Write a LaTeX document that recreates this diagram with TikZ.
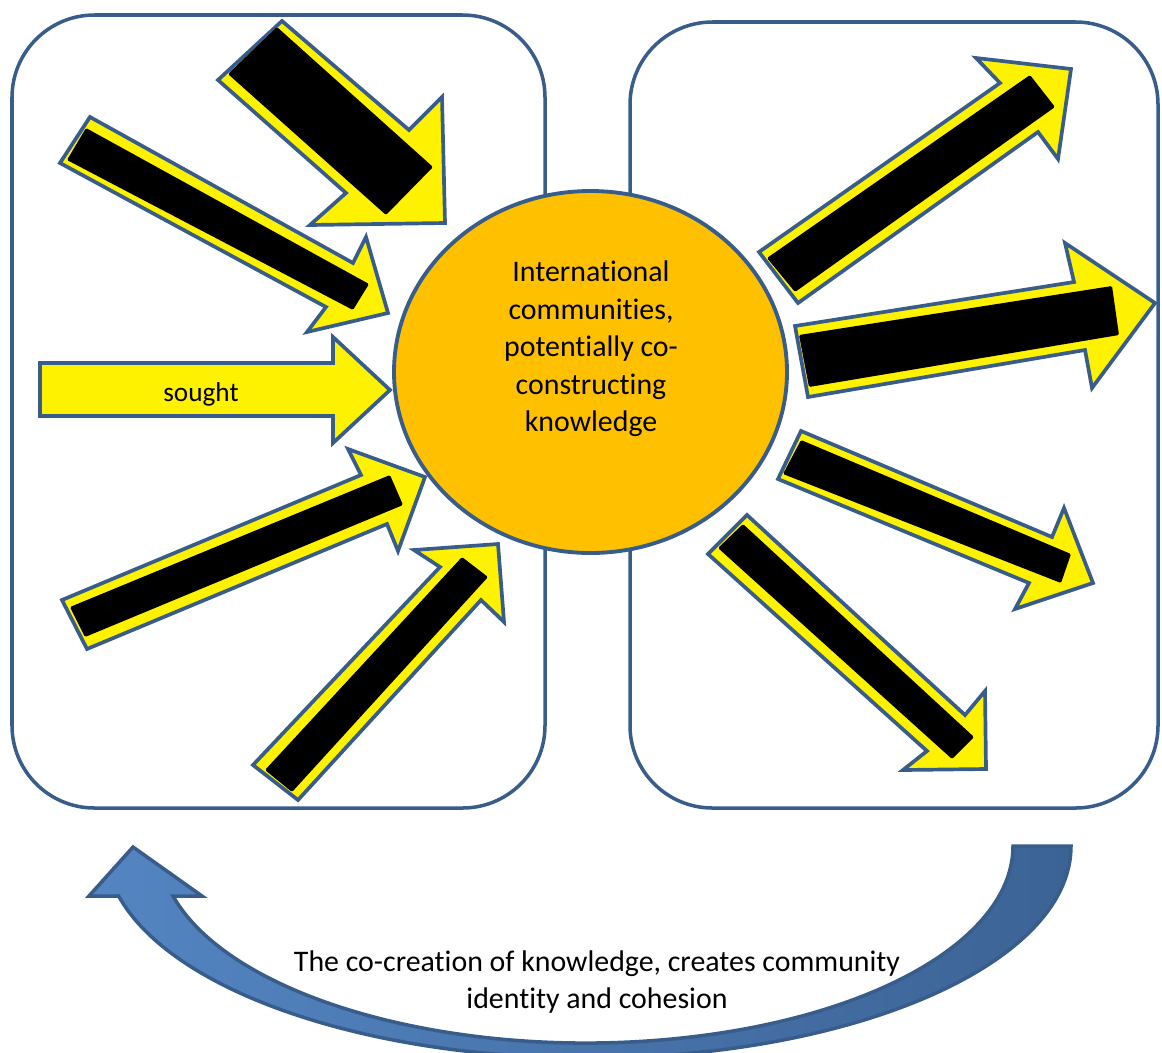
\documentclass[tikz,border=0pt]{standalone}
\usepackage{fontspec}
\setmainfont[Ligatures=NoCommon]{Carlito}
\definecolor{outline}{RGB}{56,93,138}
\definecolor{sun}{RGB}{255,192,0}
\definecolor{loopl}{RGB}{84,133,194}
\definecolor{loopd}{RGB}{60,99,149}

\begin{document}
\begin{tikzpicture}[x=0.02cm, y=-0.02cm,
		panel/.style={draw=outline, line width=2pt, rounded corners=1.65cm},
		blockarrow/.style={draw=outline, fill=yellow, line width=2.1pt},
		bar/.style={fill=black, rounded corners=0.8pt},
		txt/.style={font=\fontsize{17}{21.3}\selectfont, align=center, inner sep=0pt}]
		\useasboundingbox (0,0) rectangle (1162,1052);
		
		\draw[panel] (12,15) rectangle (545,808);
		\draw[panel] (630,22) rectangle (1158,808);
		
		\draw[draw=outline, fill=sun, line width=2.2pt] (590.5,372) ellipse [x radius=196.5, y radius=181];
		\node[txt] (hub) at (591,349) {International\\communities,\\potentially co-\\constructing\\knowledge};
		
		\draw[blockarrow] (282,21) -- (409,130) -- (442,97) -- (445,223) -- (310,225) -- (346,193) -- (218,80) -- cycle;
		\fill[bar] (277,27) -- (433,167) -- (386,215) -- (228,74) -- cycle;
		\draw[blockarrow] (90,117) -- (353,263) -- (366,237) -- (388,313) -- (307,332) -- (326,307) -- (60,163) -- cycle;
		\fill[bar] (86,128) -- (369,284) -- (353,310) -- (67,160) -- cycle;
		\draw[blockarrow] (40,363) -- (333,363) -- (333,337) -- (390,390) -- (333,443) -- (333,416) -- (40,416) -- cycle;
		\node[txt, font=\fontsize{15.5}{19}\selectfont] (sought) at (201,394) {sought};
		\draw[blockarrow] (62,600) -- (361,475) -- (348,449) -- (425,477) -- (398,551) -- (387,524) -- (87,649) -- cycle;
		\fill[bar] (70,607) -- (390,475) -- (403,505) -- (85,637) -- cycle;
		\draw[blockarrow] (253,765) -- (440,567) -- (414,550) -- (498,544) -- (504,622) -- (481,600) -- (298,800) -- cycle;
		\fill[bar] (265,770) -- (462,557) -- (488,577) -- (292,792) -- cycle;
		
		\draw[blockarrow] (759,252) -- (1000,83) -- (976,58) -- (1071,69) -- (1058,159) -- (1038,132) -- (798,303) -- cycle;
		\fill[bar] (767,258) -- (1030,75) -- (1055,107) -- (795,292) -- cycle;
		\draw[blockarrow] (795,326) -- (1074,282) -- (1065,243) -- (1155,303) -- (1092,388) -- (1085,350) -- (808,397) -- cycle;
		\fill[bar] (799,335) -- (1112,286) -- (1119,335) -- (809,387) -- cycle;
		\draw[blockarrow] (801,431) -- (1052,537) -- (1064,508) -- (1093,583) -- (1015,609) -- (1029,583) -- (778,479) -- cycle;
		\fill[bar] (801,440) -- (1071,554) -- (1061,583) -- (783,474) -- cycle;
		\draw[blockarrow] (747,515) -- (965,715) -- (985,691) -- (986,769) -- (903,770) -- (927,751) -- (708,554) -- cycle;
		\fill[bar] (743,524) -- (974,737) -- (952,759) -- (718,548) -- cycle;
		
		\draw[draw=outline, line width=2pt, left color=loopl, right color=loopd]
			(1071,846) arc[start angle=0, end angle=166.36, x radius=483, y radius=212]
			-- (89,896) -- (133,847) -- (202,896) -- (173,896)
			arc[start angle=165.3, end angle=0, x radius=427, y radius=197] -- cycle;
		\node[txt] (caption) at (597,982) {The co-creation of knowledge, creates community\\identity and cohesion};
	\end{tikzpicture}
\end{document}
